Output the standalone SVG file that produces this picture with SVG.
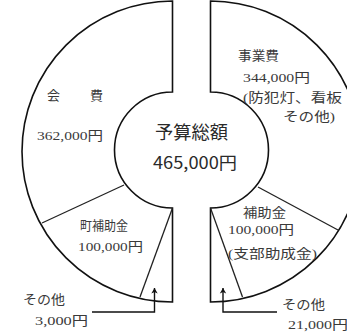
<svg xmlns="http://www.w3.org/2000/svg" width="347" height="334" viewBox="0 0 347 334">
<style>
.ln{fill:none;stroke:#111;stroke-width:1.6;stroke-linejoin:miter}
.sl{fill:none;stroke:#222;stroke-width:1.3}
.t{font-family:"Liberation Serif","Noto Sans CJK JP",serif;font-size:13px;fill:#3a3a3a}
.c{font-family:"Noto Sans CJK JP","Noto Sans",sans-serif;fill:#2a2a2a}
.ld{fill:none;stroke:#111;stroke-width:1.4}
</style>
<defs>
<marker id="ah" viewBox="-7 -4 8 8" refX="0" refY="0" markerWidth="8" markerHeight="8" markerUnits="userSpaceOnUse" orient="auto">
<path d="M0,0 L-5.5,-3.2 L-4,0 L-5.5,3.2 Z" fill="#111"/>
</marker>
</defs>
<rect width="347" height="334" fill="#fff"/>

<g id="income-half">
<path class="ln" d="M172.5,1 A150.5,150.5 0 0 0 172.5,302 L172.5,208 A58,58 0 0 1 172.5,92 Z"/>
</g>
<g id="expense-half">
<path class="ln" d="M210.5,1 A150.5,150.5 0 0 1 210.5,302 L210.5,208 A58,58 0 0 0 210.5,92 Z"/>
</g>

<g id="node-kaihi">
<text class="t" x="47" y="100" textLength="56" xml:space="preserve">会　　費</text>
<text class="t" x="37" y="140" textLength="66" lengthAdjust="spacingAndGlyphs">362,000円</text>
</g>
<g id="node-chohojokin">
<path class="sl" d="M42,223 L124,185"/>
<text class="t" x="80" y="230" textLength="48" lengthAdjust="spacingAndGlyphs">町補助金</text>
<text class="t" x="78" y="251" textLength="65" lengthAdjust="spacingAndGlyphs">100,000円</text>
</g>
<g id="node-income-other">
<path class="sl" d="M172.5,208 L140,297"/>
<text class="t" x="23" y="304" textLength="42" lengthAdjust="spacingAndGlyphs">その他</text>
<text class="t" x="35" y="325" textLength="53" lengthAdjust="spacingAndGlyphs">3,000円</text>
</g>

<g id="node-total">
<text class="c" x="155" y="139" font-size="18" textLength="73" lengthAdjust="spacingAndGlyphs">予算総額</text>
<text class="c" x="153" y="169" font-size="17" textLength="84" lengthAdjust="spacingAndGlyphs">465,000円</text>
</g>

<g id="node-jigyohi">
<text class="t" x="238" y="60" textLength="41" lengthAdjust="spacingAndGlyphs">事業費</text>
<text class="t" x="243" y="82" textLength="67" lengthAdjust="spacingAndGlyphs">344,000円</text>
<text class="t" x="243" y="102" textLength="99" lengthAdjust="spacingAndGlyphs">(防犯灯、看板</text>
<text class="t" x="283" y="121" textLength="52" lengthAdjust="spacingAndGlyphs">その他)</text>
</g>
<g id="node-hojokin">
<path class="sl" d="M258,187 L338,230"/>
<text class="t" x="243" y="217" textLength="43" lengthAdjust="spacingAndGlyphs">補助金</text>
<text class="t" x="228" y="234" textLength="66" lengthAdjust="spacingAndGlyphs">100,000円</text>
<text class="t" x="228" y="258" textLength="89" lengthAdjust="spacingAndGlyphs">(支部助成金)</text>
</g>
<g id="node-expense-other">
<path class="sl" d="M210.5,208 L242.5,297"/>
<text class="t" x="282" y="309" textLength="43" lengthAdjust="spacingAndGlyphs">その他</text>
<text class="t" x="288" y="329" textLength="60" lengthAdjust="spacingAndGlyphs">21,000円</text>
</g>

<g id="connectors">
<path class="ld" d="M92,312 L154.5,312 L154.5,288" marker-end="url(#ah)"/>
<path class="ld" d="M277,312 L223,312 L223,288" marker-end="url(#ah)"/>
</g>
</svg>
